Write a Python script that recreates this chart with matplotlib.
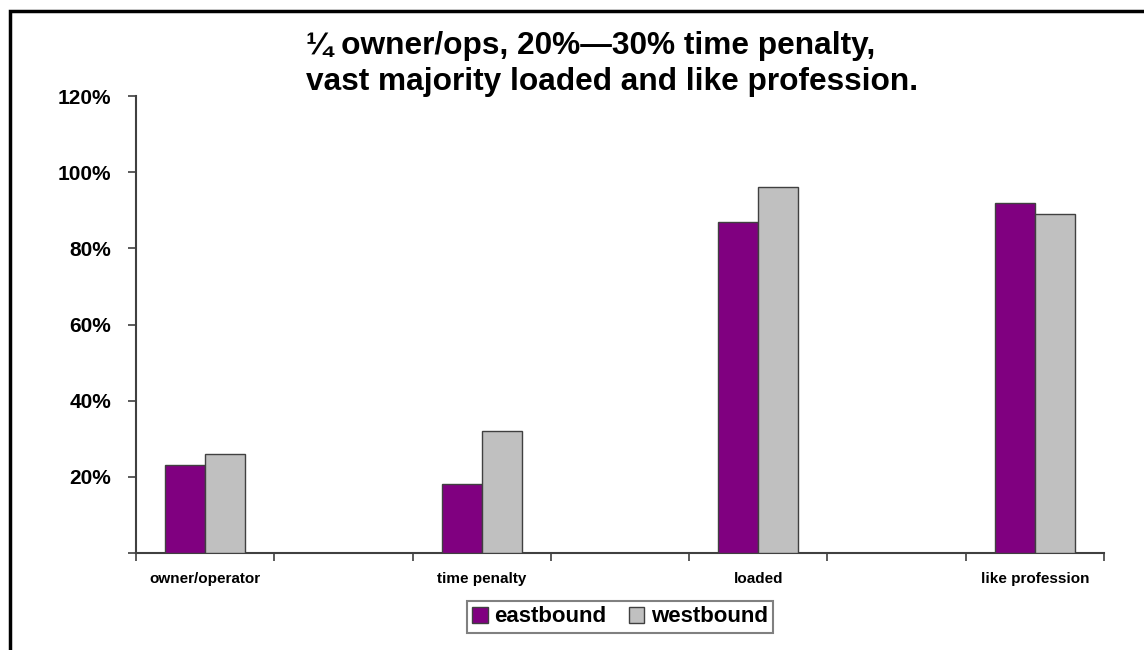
import matplotlib
matplotlib.use("Agg")
import matplotlib.pyplot as plt
from matplotlib.patches import Rectangle, Patch
import numpy as np

# Survey categories (empty slots separate the groups on the axis)
categories = ["owner/operator", "", "time penalty", "", "loaded", "", "like profession"]
eastbound = [23, None, 18, None, 87, None, 92]
westbound = [26, None, 32, None, 96, None, 89]
y_ticks = [0, 20, 40, 60, 80, 100, 120]
y_tick_labels = ["", "20%", "40%", "60%", "80%", "100%", "120%"]
title = "\u00bc owner/ops, 20%\u201430% time penalty,\nvast majority loaded and like profession."

EAST_COLOR = "#800080"
WEST_COLOR = "#C0C0C0"
EDGE = "#404040"

plt.rcParams["font.family"] = ["Liberation Sans", "DejaVu Sans"]

fig = plt.figure(figsize=(11.44, 6.5), dpi=100)
ax = fig.add_axes([136 / 1144, 1 - 553 / 650, 968 / 1144, 457 / 650])

x = np.arange(len(categories))
bw = 0.29
for i, (e, w) in enumerate(zip(eastbound, westbound)):
    if e is not None:
        ax.bar(x[i] - bw / 2, e, width=bw, color=EAST_COLOR, edgecolor=EDGE, linewidth=1.0, zorder=3)
    if w is not None:
        ax.bar(x[i] + bw / 2, w, width=bw, color=WEST_COLOR, edgecolor=EDGE, linewidth=1.0, zorder=3)

ax.set_xlim(-0.5, len(categories) - 0.5)
ax.set_ylim(0, 120)

# y axis
ax.set_yticks(y_ticks)
ax.set_yticklabels(y_tick_labels, fontsize=15, fontweight="bold")
ax.tick_params(axis="y", direction="out", length=6, width=1.2, color=EDGE, pad=12)

# x axis: labels centred on categories, tick marks at category boundaries
ax.set_xticks(x)
ax.set_xticklabels(categories, fontsize=11, fontweight="bold")
ax.tick_params(axis="x", which="major", length=0, pad=14)
ax.set_xticks(np.arange(len(categories) + 1) - 0.5, minor=True)
ax.tick_params(axis="x", which="minor", direction="out", length=6, width=1.2, color=EDGE)

for side in ("top", "right"):
    ax.spines[side].set_visible(False)
for side in ("left", "bottom"):
    ax.spines[side].set_color(EDGE)
    ax.spines[side].set_linewidth(1.5)

# title
fig.text(0.535, 1 - 64 / 650, title, ha="center", va="center", multialignment="left",
         fontsize=22.8, fontweight="bold", linespacing=1.25)

# legend
handles = [Patch(facecolor=EAST_COLOR, edgecolor=EDGE, label="eastbound"),
           Patch(facecolor=WEST_COLOR, edgecolor=EDGE, label="westbound")]
leg = fig.legend(handles=handles, loc="center", bbox_to_anchor=(620 / 1144, 1 - 617 / 650),
                 ncol=2, frameon=True, fancybox=False, prop={"size": 16, "weight": "bold"},
                 handlelength=0.7, handleheight=0.7, handletextpad=0.3, columnspacing=1.0,
                 borderpad=0.25, borderaxespad=0)
leg.get_frame().set_edgecolor("#606060")
leg.get_frame().set_linewidth(1.5)

# outer border
fig.patches.append(Rectangle((10 / 1144, -0.05), 1.1, 1 - 11 / 650 + 0.05, transform=fig.transFigure,
                             fill=False, edgecolor="black", linewidth=2.5, clip_on=False))

fig.savefig("out.png", dpi=100)
